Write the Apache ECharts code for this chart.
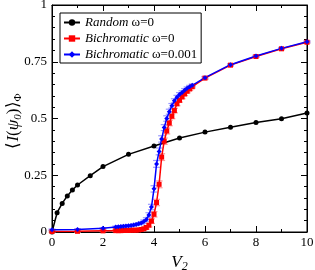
<!DOCTYPE html>
<html><head><meta charset="utf-8">
<script src="https://cdn.jsdelivr.net/npm/echarts@6/dist/echarts.min.js"></script>
<style>html,body{margin:0;padding:0;background:#fff}#c{width:315px;height:270px}</style>
</head><body><div id="c"></div>
<script>
const randomX = [0,0.2,0.4,0.6,0.8,1,1.5,2,3,4,5,6,7,8,9,10];
const randomY = [0,0.085,0.126,0.159,0.185,0.207,0.248,0.288,0.342,0.379,0.414,0.44,0.461,0.482,0.499,0.524];
const bichX = [0,1,2,2.5,2.6,2.7,2.8,2.9,3.0,3.1,3.2,3.3,3.4,3.5,3.6,3.7,3.8,3.9,4.0,4.1,4.2,4.3,4.4,4.5,4.6,4.7,4.8,4.9,5.0,5.1,5.2,5.3,5.4,5.5,6,7,8,9,10];
const bich0Y = [0.002,0.003,0.005,0.006,0.006,0.006,0.007,0.007,0.007,0.008,0.008,0.008,0.009,0.011,0.014,0.02,0.03,0.048,0.078,0.13,0.21,0.33,0.40,0.445,0.48,0.51,0.535,0.565,0.58,0.595,0.608,0.62,0.63,0.64,0.678,0.735,0.773,0.807,0.836];
const bich0Err = [0.003,0.003,0.003,0.004,0.004,0.004,0.004,0.004,0.004,0.004,0.004,0.004,0.005,0.005,0.006,0.007,0.008,0.010,0.012,0.014,0.015,0.015,0.014,0.013,0.012,0.011,0.010,0.009,0.008,0.008,0.007,0.007,0.006,0.006,0.005,0.004,0.004,0.004,0.004];
const bich1Y = [0.01,0.011,0.016,0.022,0.023,0.024,0.025,0.026,0.027,0.029,0.031,0.033,0.036,0.040,0.046,0.055,0.075,0.11,0.19,0.30,0.355,0.41,0.46,0.50,0.53,0.556,0.578,0.594,0.606,0.615,0.625,0.633,0.64,0.646,0.68,0.737,0.775,0.809,0.838];
const bich1Err = [0.003,0.003,0.003,0.004,0.004,0.004,0.004,0.004,0.004,0.004,0.004,0.005,0.005,0.006,0.007,0.008,0.010,0.012,0.014,0.015,0.015,0.014,0.013,0.012,0.011,0.010,0.009,0.008,0.008,0.007,0.007,0.006,0.006,0.006,0.005,0.004,0.004,0.004,0.004];
const xTicks = [0,2,4,6,8,10];
const yTicks = [0,0.25,0.5,0.75,1];

const serif = 'Liberation Serif';
const pair = (xs, ys) => xs.map((x,i)=>[x,ys[i]]);
const errData = (xs, ys, es) => xs.map((x,i)=>[x,ys[i]-es[i],ys[i]+es[i]]);
const errSeries = (xs, ys, es, color) => ({
  type:'custom', silent:true, z:1, data:errData(xs,ys,es),
  renderItem:(params, api)=>{
    const lo = api.coord([api.value(0), api.value(1)]);
    const hi = api.coord([api.value(0), api.value(2)]);
    const w = 3.5;
    const st = {stroke:color, lineWidth:1.2};
    return {type:'group', children:[
      {type:'line', shape:{x1:lo[0],y1:lo[1],x2:hi[0],y2:hi[1]}, style:st},
      {type:'line', shape:{x1:lo[0]-w,y1:lo[1],x2:lo[0]+w,y2:lo[1]}, style:st},
      {type:'line', shape:{x1:hi[0]-w,y1:hi[1],x2:hi[0]+w,y2:hi[1]}, style:st}
    ]};
  }
});
const chart = echarts.init(document.getElementById('c'));
const axisCommon = {
  axisLine:{show:true,onZero:false,lineStyle:{color:'#000',width:1}},
  axisTick:{show:true,inside:true,length:6,lineStyle:{color:'#000'}},
  splitLine:{show:false}
};
chart.setOption({
  animation:false,
  backgroundColor:'#fff',
  grid:{left:52,right:8,top:5,bottom:38,show:true,borderColor:'#000',borderWidth:1,outerBoundsMode:'none',containLabel:false},
  graphic:[{
    type:'text', x:14, y:121, rotation:Math.PI/2,
    style:{
      text:'{a|⟨}{i|I}{a|(}{i|ψ}{s|0}{a|)⟩}{t|Φ}',
      align:'center', verticalAlign:'middle',
      rich:{
        a:{fontFamily:serif,fontSize:17,fill:'#000'},
        i:{fontFamily:serif,fontSize:17,fontStyle:'italic',fill:'#000'},
        s:{fontFamily:serif,fontSize:11,fontStyle:'italic',fill:'#000',padding:[8,0,0,0]},
        t:{fontFamily:serif,fontSize:11,fill:'#000',padding:[8,0,0,0]}
      }
    }
  }],
  legend:{
    left:60,top:13,orient:'vertical',itemGap:3,itemWidth:16,itemHeight:8,
    data:['Random ω=0','Bichromatic ω=0','Bichromatic ω=0.001'],
    borderColor:'#000',borderWidth:1,borderRadius:0,padding:[3,4,2,3],
    backgroundColor:'#fff',
    textStyle:{fontFamily:serif,fontSize:13,color:'#000',
      rich:{i:{fontFamily:serif,fontSize:13,fontStyle:'italic',color:'#000'}}},
    formatter:n=>{const p=n.split(' ');return '{i|'+p[0]+'} '+p.slice(1).join(' ');}
  },
  xAxis:[
    Object.assign({type:'value',min:0,max:10,interval:2,
      minorTick:{show:true,splitNumber:2,length:3,lineStyle:{color:'#000'}},
      axisLabel:{fontFamily:serif,fontSize:13,color:'#000',margin:4,
        formatter:v=>xTicks.includes(v)?String(v):''},
      name:'{v|V}{s|2}',nameLocation:'middle',nameGap:18,
      nameTextStyle:{rich:{v:{fontFamily:serif,fontSize:17,fontStyle:'italic',color:'#000'},
        s:{fontFamily:serif,fontSize:12,fontStyle:'italic',color:'#000',verticalAlign:'bottom',padding:[8,0,0,0]}}}
    }, axisCommon),
    Object.assign({type:'value',position:'top',min:0,max:10,interval:2,
      minorTick:{show:true,splitNumber:2,length:3,lineStyle:{color:'#000'}},
      axisLabel:{show:false}}, axisCommon)
  ],
  yAxis:[
    Object.assign({type:'value',min:0,max:1,interval:0.25,
      minorTick:{show:true,splitNumber:5,length:3,lineStyle:{color:'#000'}},
      axisLabel:{fontFamily:serif,fontSize:13,color:'#000',margin:5,
        formatter:v=>yTicks.includes(v)?String(v):''}
    }, axisCommon),
    Object.assign({type:'value',position:'right',min:0,max:1,interval:0.25,
      minorTick:{show:true,splitNumber:5,length:3,lineStyle:{color:'#000'}},
      axisLabel:{show:false}}, axisCommon)
  ],
  series:[
    errSeries(bichX,bich0Y,bich0Err,'#ff9a9a'),
    errSeries(bichX,bich1Y,bich1Err,'#9a9aff'),
    {name:'Random ω=0',type:'line',z:3,data:pair(randomX,randomY),symbol:'circle',symbolSize:5,
      itemStyle:{color:'#000'},lineStyle:{color:'#000',width:1.5}},
    {name:'Bichromatic ω=0',type:'line',z:3,data:pair(bichX,bich0Y),symbol:'rect',symbolSize:5,
      itemStyle:{color:'#ff0000'},lineStyle:{color:'#ff0000',width:1.5}},
    {name:'Bichromatic ω=0.001',type:'line',z:3,data:pair(bichX,bich1Y),symbol:'diamond',symbolSize:5,
      itemStyle:{color:'#0000ff'},lineStyle:{color:'#0000ff',width:1.5}}
  ]
});
</script></body></html>
